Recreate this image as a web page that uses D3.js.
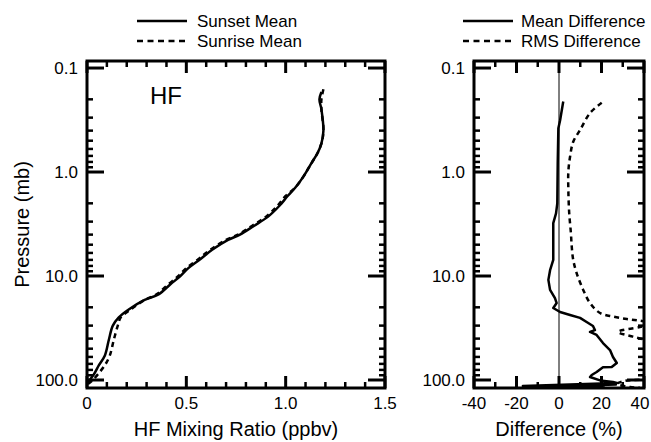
<!DOCTYPE html>
<html>
<head>
<meta charset="utf-8">
<script src="https://cdn.jsdelivr.net/npm/d3@7"></script>
<style>
  body { margin: 0; background: #fff; }
  svg text { font-family: "Liberation Sans", Arial, Helvetica, sans-serif; fill: #000; }
</style>
</head>
<body>
<div id="chart"></div>
<script>
// HF profiles (left panel): pressure (mb) and mixing ratio (ppbv)
const sunsetP = [0.17, 0.20, 0.25, 0.40, 0.53, 0.66, 0.82, 1.1, 1.4, 1.7, 2.1, 2.7, 3.3, 4.0, 4.5, 5.6, 6.9, 8.4, 10, 12, 15, 17, 21, 25, 30, 41, 58, 72, 88, 102, 109]
const sunsetV = [1.18, 1.17, 1.18, 1.19, 1.18, 1.16, 1.13, 1.09, 1.05, 1.01, 0.97, 0.91, 0.84, 0.77, 0.71, 0.63, 0.57, 0.51, 0.47, 0.42, 0.36, 0.29, 0.21, 0.16, 0.13, 0.11, 0.09, 0.06, 0.035, 0.01, 0.0]
const sunriseP = [0.16, 0.20, 0.25, 0.40, 0.53, 0.66, 0.82, 1.1, 1.4, 1.7, 2.1, 2.7, 3.3, 4.0, 4.5, 5.6, 6.9, 8.4, 10, 12, 15, 17, 21, 25, 30, 41, 58, 72, 88, 102, 109]
const sunriseV = [1.19, 1.18, 1.18, 1.19, 1.18, 1.16, 1.13, 1.09, 1.05, 1.00, 0.96, 0.90, 0.83, 0.76, 0.70, 0.62, 0.56, 0.50, 0.46, 0.41, 0.35, 0.29, 0.22, 0.17, 0.155, 0.135, 0.115, 0.09, 0.055, 0.025, 0.005]

// differences (right panel), percent
const meanDiffP = [0.21, 0.32, 0.38, 0.82, 2.0, 2.5, 3.1, 5.3, 7.0, 8.8, 10.9, 13.6, 16.3, 18.2, 20.3, 22.2, 23.7, 25.3, 27.7, 30.3, 33.1, 34.5, 36.9, 44.1, 51.5, 60.1, 68.7, 75.0, 75.5, 83.8, 89.5, 93.6, 101, 104.5, 106.8, 114.2, 110.5, 118.1, 113, 116.5, 114.5, 119]
const meanDiffD = [2.0, 0.5, -0.3, -0.6, -0.8, -1.4, -2.7, -2.7, -2.7, -4.2, -5.0, -4.2, -1.9, -1.1, -2.7, 0.5, 5.2, 9.9, 13.0, 16.0, 16.9, 14.6, 17.7, 20.7, 24.0, 25.4, 27.2, 24.8, 20.7, 17.7, 15.4, 14.6, 19.3, 25.4, 27.2, -17, 26.8, -17, 15, -15, 21, -12]
const rmsDiffP = [0.216, 0.271, 0.395, 0.511, 0.713, 0.993, 1.49, 2.48, 3.86, 5.23, 7.02, 9.36, 13.6, 18.2, 22.7, 24.6, 25.9, 26.9, 28.3, 30.9, 34.5, 38.3, 40.3, 46.1, 60, 80, 95, 102, 109, 116.7, 119]
const rmsDiffD = [20.1, 14.6, 9.9, 6.7, 5.2, 4.4, 4.4, 4.8, 5.6, 6.0, 6.7, 8.3, 11.4, 14.6, 19.3, 25.6, 31.9, 38.1, 45, 38.1, 27.8, 34.8, 39, 47.5, 55, 50, 45, 31, 27.3, 33.4, 38]

// axes
const pressureDomain = [0.0856, 119.4]
const pressureMajor = [0.1, 1, 10, 100]
const pressureLabels = ['0.1', '1.0', '10.0', '100.0']
const ratioTicks = [0, 0.5, 1.0, 1.5]
const ratioLabels = ['0', '0.5', '1.0', '1.5']
const diffTicks = [-40, -20, 0, 20, 40]
const diffLabels = ['-40', '-20', '0', '20', '40']
const legendLeft = ['Sunset Mean', 'Sunrise Mean']
const legendRight = ['Mean Difference', 'RMS Difference']

const W = 651, H = 442
const plotTop = 61, plotBottom = 388

const svg = d3.select('#chart').append('svg')
  .attr('width', W).attr('height', H)

const y = d3.scaleLog().domain(pressureDomain).range([plotTop, plotBottom])

/** minor pressure ticks 2..9 in each decade */
let pressureMinor = []
pressureMajor.forEach(d => {
  for (let k = 2; k <= 9; k++) {
    let v = d * k
    if (v < pressureDomain[1]) pressureMinor.push(v)
  }
})

function panel(id, x0, x1, xScale, xMajor, xLabels, xMinor, title) {
  const g = svg.append('g')
  g.append('clipPath').attr('id', id)
    .append('rect').attr('x', x0).attr('y', plotTop).attr('width', x1 - x0).attr('height', plotBottom - plotTop)

  const tickG = g.append('g').attr('stroke', '#000').attr('fill', 'none')
  // y ticks, left and right sides (inward)
  pressureMajor.forEach(p => {
    tickG.append('line').attr('x1', x0).attr('x2', x0 + 17).attr('y1', y(p)).attr('y2', y(p)).attr('stroke-width', 3)
    tickG.append('line').attr('x1', x1).attr('x2', x1 - 17).attr('y1', y(p)).attr('y2', y(p)).attr('stroke-width', 3)
  })
  pressureMinor.forEach(p => {
    tickG.append('line').attr('x1', x0).attr('x2', x0 + 6).attr('y1', y(p)).attr('y2', y(p)).attr('stroke-width', 2.5)
    tickG.append('line').attr('x1', x1).attr('x2', x1 - 6).attr('y1', y(p)).attr('y2', y(p)).attr('stroke-width', 2.5)
  })
  // x ticks, bottom and top sides (inward)
  xMajor.forEach(v => {
    tickG.append('line').attr('x1', xScale(v)).attr('x2', xScale(v)).attr('y1', plotBottom).attr('y2', plotBottom - 12).attr('stroke-width', 3)
    tickG.append('line').attr('x1', xScale(v)).attr('x2', xScale(v)).attr('y1', plotTop).attr('y2', plotTop + 12).attr('stroke-width', 3)
  })
  xMinor.forEach(v => {
    tickG.append('line').attr('x1', xScale(v)).attr('x2', xScale(v)).attr('y1', plotBottom).attr('y2', plotBottom - 6).attr('stroke-width', 2.5)
    tickG.append('line').attr('x1', xScale(v)).attr('x2', xScale(v)).attr('y1', plotTop).attr('y2', plotTop + 6).attr('stroke-width', 2.5)
  })

  // frame
  g.append('rect').attr('x', x0).attr('y', plotTop).attr('width', x1 - x0).attr('height', plotBottom - plotTop)
    .attr('fill', 'none').attr('stroke', '#000').attr('stroke-width', 3)

  // tick labels
  g.selectAll('.ylab').data(pressureMajor).enter().append('text')
    .attr('x', x0 - 9).attr('y', d => y(d)).attr('dy', '0.36em')
    .attr('text-anchor', 'end').attr('font-size', 17)
    .text((d, i) => pressureLabels[i])
  g.selectAll('.xlab').data(xMajor).enter().append('text')
    .attr('x', d => Math.min(xScale(d), W - 11)).attr('y', plotBottom + 21)
    .attr('text-anchor', 'middle').attr('font-size', 17)
    .text((d, i) => xLabels[i])

  g.append('text').attr('x', (x0 + x1) / 2).attr('y', 436)
    .attr('text-anchor', 'middle').attr('font-size', 20)
    .text(title)

  return g
}

/** 左图 */
const xL = d3.scaleLinear().domain([0, 1.5]).range([87, 385])
const ratioMinor = d3.range(1, 15).map(i => i / 10).filter(v => ratioTicks.indexOf(v) < 0)
const left = panel('clipL', 87, 385, xL, ratioTicks, ratioLabels, ratioMinor, 'HF Mixing Ratio (ppbv)')

const lineL = d3.line().x(d => xL(d[1])).y(d => y(d[0])).curve(d3.curveCatmullRom)
left.append('path').datum(d3.zip(sunsetP, sunsetV))
  .attr('d', lineL).attr('fill', 'none').attr('stroke', '#000').attr('stroke-width', 2.5)
  .attr('clip-path', 'url(#clipL)')
left.append('path').datum(d3.zip(sunriseP, sunriseV))
  .attr('d', lineL).attr('fill', 'none').attr('stroke', '#000').attr('stroke-width', 2.5)
  .attr('stroke-dasharray', '5,4').attr('clip-path', 'url(#clipL)')

left.append('text').attr('x', 150).attr('y', 104).attr('font-size', 24).text('HF')

svg.append('text')
  .attr('transform', `translate(29, ${(plotTop + plotBottom) / 2}) rotate(-90)`)
  .attr('text-anchor', 'middle').attr('font-size', 20)
  .text('Pressure  (mb)')

/** 右图 */
const xR = d3.scaleLinear().domain([-40, 40]).range([474, 644])
const diffMinor = [-30, -10, 10, 30]
const right = panel('clipR', 474, 644, xR, diffTicks, diffLabels, diffMinor, 'Difference (%)')

right.append('line').attr('x1', xR(0)).attr('x2', xR(0)).attr('y1', plotTop).attr('y2', plotBottom)
  .attr('stroke', '#000').attr('stroke-width', 1)

const lineR = d3.line().x(d => xR(d[1])).y(d => y(d[0]))
right.append('path').datum(d3.zip(meanDiffP, meanDiffD))
  .attr('d', lineR).attr('fill', 'none').attr('stroke', '#000').attr('stroke-width', 2.5)
  .attr('stroke-linejoin', 'round').attr('clip-path', 'url(#clipR)')
right.append('path').datum(d3.zip(rmsDiffP, rmsDiffD))
  .attr('d', lineR.curve(d3.curveCatmullRom)).attr('fill', 'none').attr('stroke', '#000').attr('stroke-width', 2.5)
  .attr('stroke-dasharray', '5,4').attr('clip-path', 'url(#clipR)')

/** 图例 */
function legend(names, lx, tx) {
  names.forEach((name, i) => {
    let ly = 21 + i * 20
    svg.append('line').attr('x1', lx).attr('x2', lx + 50).attr('y1', ly).attr('y2', ly)
      .attr('stroke', '#000').attr('stroke-width', 2.5)
      .attr('stroke-dasharray', i === 1 ? '6,4.5' : null)
    svg.append('text').attr('x', tx).attr('y', ly).attr('dy', '0.36em')
      .attr('font-size', 17).text(name)
  })
}
legend(legendLeft, 137, 197)
legend(legendRight, 463, 521)
</script>
</body>
</html>
